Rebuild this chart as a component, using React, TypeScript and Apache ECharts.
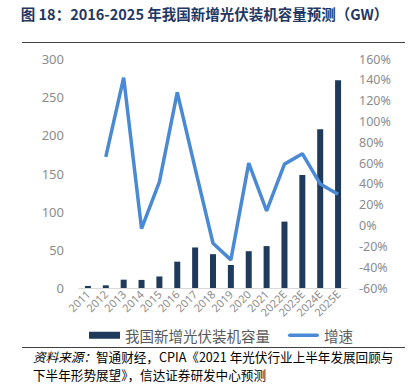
import React, { useEffect, useRef } from "react";
import * as echarts from "echarts";

const categories = ["2011", "2012", "2013", "2014", "2015", "2016", "2017", "2018", "2019", "2020", "2021", "2022E", "2023E", "2024E", "2025E"];
const capacity = [2.7, 3.5, 10.9, 10.6, 15.1, 34.5, 53.1, 44.3, 30.1, 48.2, 54.9, 87, 148, 208, 272];
const growth = [null, 66, 142, -3, 42, 128, 55, -17, -33, 60, 14, 59, 69, 40, 30];
const leftTicks = { min: 0, max: 300, interval: 50 };
const rightTicks = { min: -60, max: 160, interval: 20 };

export default function App() {
  const ref = useRef<HTMLDivElement>(null);
  useEffect(() => {
    document.body.style.margin = "0";
    const chart = echarts.init(ref.current!, null, { renderer: "svg" });
    chart.setOption({
      animation: false,
      backgroundColor: "#ffffff",
      grid: { left: 79, right: 62, top: 59, bottom: 96 },
      legend: {
        left: 84,
        top: 323,
        itemWidth: 31,
        itemHeight: 7,
        itemGap: 18,
        textStyle: { color: "#595959", fontSize: 14.5, fontFamily: "Noto Sans CJK SC" },
        data: [
          { name: "我国新增光伏装机容量", icon: "rect" },
          { name: "增速", icon: "path://M2,0 L32,0 A2,2 0 0 1 32,4 L2,4 A2,2 0 0 1 2,0 Z" },
        ],
      },
      xAxis: {
        type: "category",
        data: categories,
        boundaryGap: true,
        axisLine: { lineStyle: { color: "#d9d9d9" } },
        axisTick: { show: false },
        axisLabel: { rotate: 45, fontSize: 11, color: "#8c8c8c", margin: 4, interval: 0, fontFamily: "Noto Sans" },
      },
      yAxis: [
        {
          type: "value",
          ...leftTicks,
          splitLine: { show: false },
          axisLine: { show: false },
          axisTick: { show: false },
          axisLabel: { fontSize: 13, color: "#8c8c8c", margin: 15, fontFamily: "Noto Sans" },
        },
        {
          type: "value",
          ...rightTicks,
          splitLine: { show: false },
          axisLine: { show: false },
          axisTick: { show: false },
          axisLabel: { fontSize: 12.5, color: "#8c8c8c", margin: 12, formatter: "{value}%", fontFamily: "Noto Sans" },
        },
      ],
      series: [
        {
          name: "我国新增光伏装机容量",
          type: "bar",
          data: capacity,
          barWidth: 6,
          itemStyle: { color: "#203a5c" },
        },
        {
          name: "增速",
          type: "line",
          yAxisIndex: 1,
          data: growth,
          symbol: "none",
          lineStyle: { color: "#4a8ad4", width: 3.5 },
          itemStyle: { color: "#4a8ad4" },
        },
      ],
      graphic: [
        {
          type: "text",
          left: "center",
          top: 6,
          style: {
            text: "图 18：2016-2025 年我国新增光伏装机容量预测（GW）",
            fontSize: 14.5,
            fontWeight: "bold",
            fill: "#1f3864",
            fontFamily: "Noto Sans CJK SC",
          },
        },
        { type: "line", shape: { x1: 22, y1: 42.5, x2: 405, y2: 42.5 }, style: { stroke: "#404040", lineWidth: 1 } },
        { type: "line", shape: { x1: 22, y1: 347.5, x2: 405, y2: 347.5 }, style: { stroke: "#404040", lineWidth: 1 } },
        {
          type: "text",
          left: 33,
          top: 350,
          style: {
            text: "{i|资料来源：}智通财经，CPIA《2021 年光伏行业上半年发展回顾与",
            fontSize: 12.6,
            fill: "#000000",
            fontFamily: "Noto Sans CJK SC",
            rich: { i: { fontStyle: "italic", fontSize: 12.6, fontFamily: "Noto Sans CJK SC" } },
          },
        },
        {
          type: "text",
          left: 33,
          top: 368,
          style: {
            text: "下半年形势展望》，信达证券研发中心预测",
            fontSize: 12.6,
            fill: "#000000",
            fontFamily: "Noto Sans CJK SC",
          },
        },
      ],
    });
    return () => chart.dispose();
  }, []);
  return <div ref={ref} style={{ width: 409, height: 384 }} />;
}
